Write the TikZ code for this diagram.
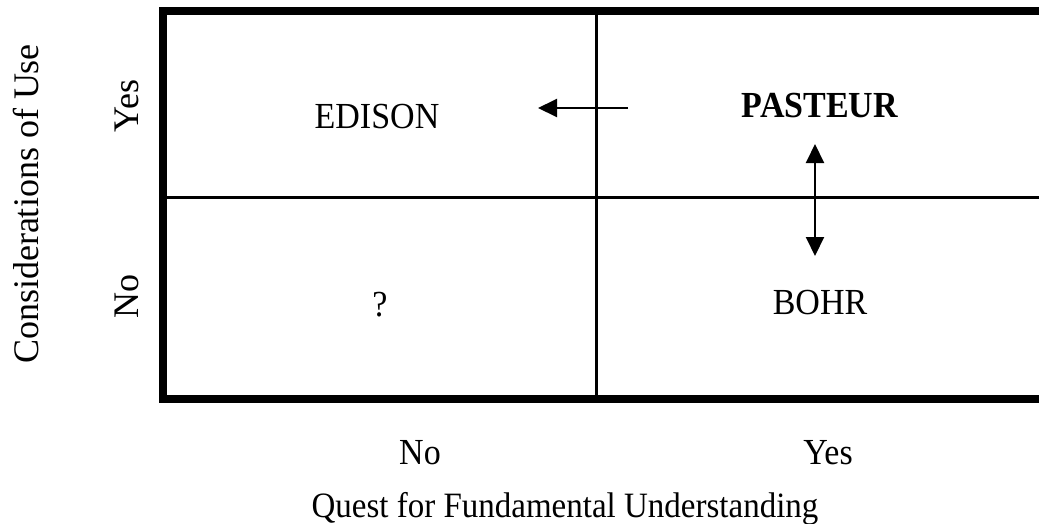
\documentclass[tikz,border=0pt]{standalone}
\usepackage{fontspec}
\setmainfont{Liberation Serif}
\usetikzlibrary{arrows.meta,positioning}
\tikzset{
	frame/.style={line width=8pt, line cap=rect},
	divider/.style={line width=3pt},
	label/.style={font=\fontsize{34}{38}\selectfont, inner sep=0pt, anchor=base, yscale=1.08},
	axislabel/.style={font=\fontsize{36}{40}\selectfont, inner sep=0pt, anchor=base, rotate=90},
	moveto/.style={line width=2pt, -{Triangle[length=19pt,width=18pt]}},
	movetwo/.style={line width=2pt, {Triangle[length=19pt,width=18pt]}-{Triangle[length=19pt,width=18pt]}},
}
\begin{document}
\begin{tikzpicture}[x=1pt, y=-1pt]
	\useasboundingbox (0,0) rectangle (1039,523);
	\clip (0,0) rectangle (1039,523);

	% quadrant frame
	\draw[frame] (1060,11) -- (163,11) -- (163,399) -- (1060,399);
	\draw[divider] (596,11) -- (596,399);
	\draw[divider] (163,197) -- (1060,197);

	% quadrants
	\node[label] (edison) at (377,128) {EDISON};
	\node[label, font=\fontsize{34}{38}\selectfont\bfseries] (pasteur) at (820,117) {PASTEUR};
	\node[label] (unknown) at (380,316) {?};
	\node[label] (bohr) at (820,314) {BOHR};

	% axes
	\node[label] (xno) at (420,464) {No};
	\node[label] (xyes) at (828,464) {Yes};
	\node[label, font=\fontsize{33}{38}\selectfont] (xtitle) at (565,517) {Quest for Fundamental Understanding};
	\node[axislabel] (yyes) at (138,106) {Yes};
	\node[axislabel] (yno) at (138,296) {No};
	\node[axislabel] (ytitle) at (38,204) {Considerations of Use};

	% moves
	\coordinate (leftfrom) at (628,108);
	\coordinate (leftto) at (538,108);
	\coordinate (uptip) at (815,144);
	\coordinate (downtip) at (815,256);
	\draw[moveto] (leftfrom) -- (leftto);
	\draw[movetwo] (uptip) -- (downtip);
\end{tikzpicture}
\end{document}
